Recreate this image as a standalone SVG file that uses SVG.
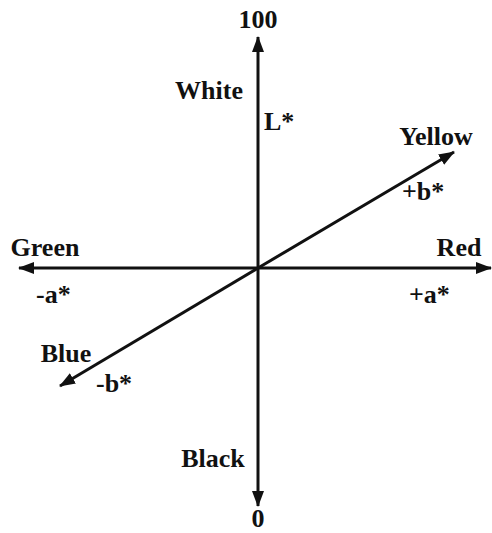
<svg xmlns="http://www.w3.org/2000/svg" width="492" height="533" viewBox="0 0 492 533">
<style>
text{font-family:"Liberation Serif","Times New Roman",serif;font-weight:bold;font-size:26px;fill:#111}
.ax{stroke:#111;stroke-width:3;fill:none}
</style>
<defs>
<marker id="ah" viewBox="0 0 16 12" refX="15" refY="6" markerWidth="16" markerHeight="12" markerUnits="userSpaceOnUse" orient="auto">
<path d="M0,0 L16,6 L0,12 z" fill="#111"/>
</marker>
</defs>
<rect width="492" height="533" fill="#fff"/>
<g id="connectors">
<line class="ax" x1="258" y1="268" x2="258" y2="37" marker-end="url(#ah)"/>
<line class="ax" x1="258" y1="268" x2="258" y2="506" marker-end="url(#ah)"/>
<line class="ax" x1="258" y1="268" x2="19" y2="268" marker-end="url(#ah)"/>
<line class="ax" x1="258" y1="268" x2="491" y2="268" marker-end="url(#ah)"/>
<line class="ax" x1="258" y1="268" x2="454" y2="152" marker-end="url(#ah)"/>
<line class="ax" x1="258" y1="268" x2="60" y2="386" marker-end="url(#ah)"/>
</g>
<g id="labels">
<text x="258" y="28" text-anchor="middle">100</text>
<text x="209" y="99" text-anchor="middle">White</text>
<text x="264" y="130">L*</text>
<text x="436" y="145" text-anchor="middle">Yellow</text>
<text x="402" y="200">+b*</text>
<text x="45" y="256" text-anchor="middle">Green</text>
<text x="459" y="256" text-anchor="middle">Red</text>
<text x="36" y="303">-a*</text>
<text x="409" y="303">+a*</text>
<text x="66" y="362" text-anchor="middle">Blue</text>
<text x="96" y="392">-b*</text>
<text x="213" y="467" text-anchor="middle">Black</text>
<text x="258" y="527" text-anchor="middle">0</text>
</g>
</svg>
